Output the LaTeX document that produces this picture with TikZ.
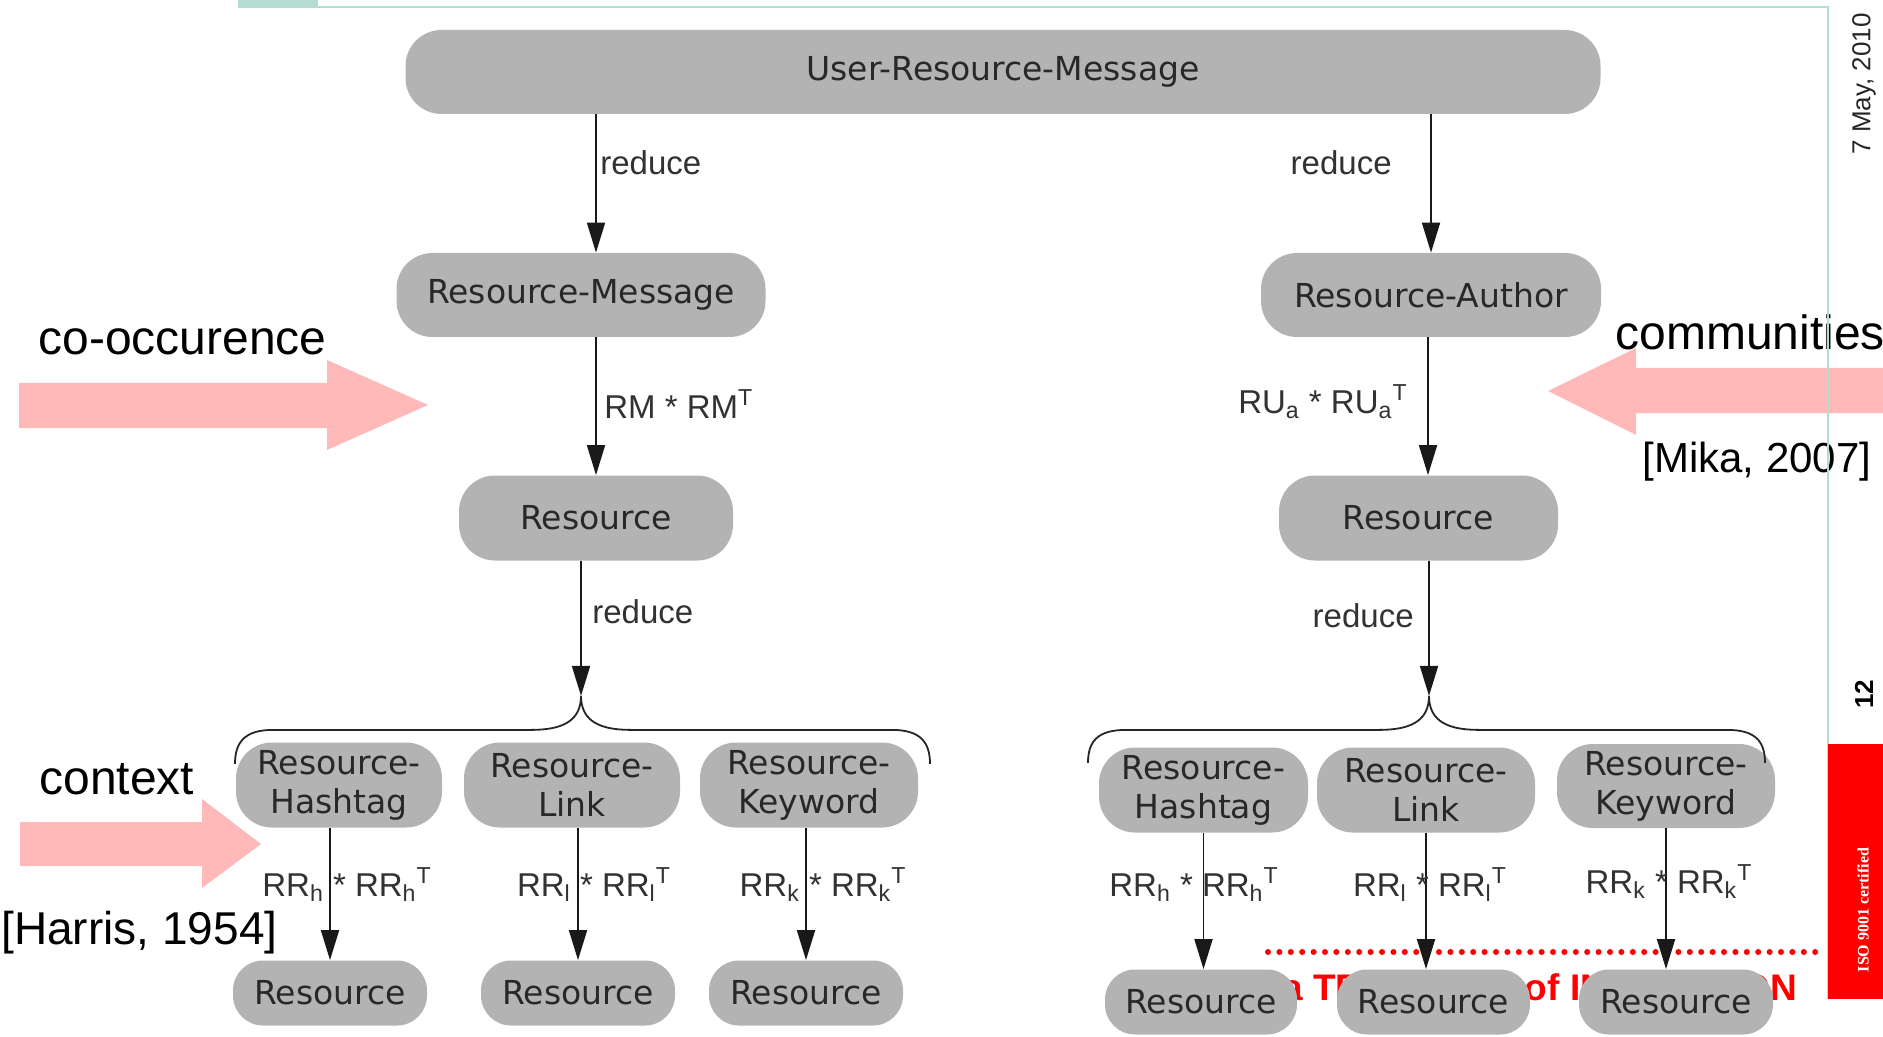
\documentclass[tikz,border=0pt]{standalone}
\usepackage{fontspec}
\setmainfont{Liberation Sans}
\newfontfamily\boxfont{DejaVu Sans}
\newfontfamily\isofont{Liberation Serif}
\usetikzlibrary{arrows.meta,calc}
\definecolor{boxgray}{RGB}{179,179,179}
\definecolor{boxtext}{RGB}{40,40,40}
\definecolor{labeltext}{RGB}{50,50,50}
\definecolor{pinkarrow}{RGB}{255,185,185}
\definecolor{slidegreen}{RGB}{180,220,208}
\tikzset{
  blob/.style={fill=boxgray, text=boxtext, rounded corners=18pt, inner sep=0pt, align=center,
    font=\boxfont\fontsize{16.5}{19.5}\selectfont},
  rblob/.style={blob, rounded corners=15pt, minimum height=32.5pt},
  lbl/.style={text=labeltext, inner sep=0pt, anchor=base, font=\fontsize{16.5}{20}\selectfont},
  arr/.style={draw=black!90, line width=0.9pt, -{Triangle[length=15pt,width=9pt]}},
  brc/.style={draw=black!85, line width=0.9pt},
  remark/.style={inner sep=0pt, anchor=base west, font=\fontsize{24}{29}\selectfont},
  fatarrow/.style={fill=pinkarrow}
}
\begin{document}
\begin{tikzpicture}[x=0.5pt, y=-0.5pt]
	\useasboundingbox[fill=white] (0,0) rectangle (1883,1037);
	
	\fill[fatarrow] (19,383) -- (327,383) -- (327,360) -- (428,405) -- (327,450) -- (327,428) -- (19,428) -- cycle;
	\fill[fatarrow] (20,822) -- (202,822) -- (202,799) -- (261,844) -- (202,888) -- (202,866) -- (20,866) -- cycle;
	\fill[fatarrow] (1883,368) -- (1636,368) -- (1636,348) -- (1548,391) -- (1636,435) -- (1636,413) -- (1883,413) -- cycle;
	\node[remark] (n1) at (38,355) {co-occurence};
	\node[remark] (n2) at (39,794) {context};
	\node[remark, font=\fontsize{23}{28}\selectfont] (n3) at (1,944) {[Harris, 1954]};
	\node[remark] (n4) at (1615,350) {communities};
	\node[remark, font=\fontsize{21}{26}\selectfont] (n5) at (1642,472) {[Mika, 2007]};
	
	\fill[slidegreen] (238,0) rectangle (318,8);
	\draw[slidegreen, line width=1.2pt] (318,7) -- (1828,7) -- (1828,999);
	\fill[red] (1828,744) rectangle (1883,999);
	\node[rotate=90, text=white, font=\isofont\bfseries\fontsize{8}{9}\selectfont] (iso) at (1863,910) {ISO 9001 certified};
	\node[rotate=90, font=\bfseries\fontsize{13}{15}\selectfont] (pg) at (1864,694) {12};
	\node[rotate=90, text=black!85, font=\fontsize{13}{15}\selectfont] (dt) at (1864,84) {7 May, 2010};
	\node[anchor=base west, inner sep=0pt, text=red, font=\bfseries\fontsize{18.5}{22}\selectfont] (tag) at (1282,1000) {a TRADITION of INNOVATION};
	\draw[red, line width=3pt, line cap=round, dash pattern=on 0pt off 5.7pt] (1268,952) -- (1820,952);
	
	\node[blob, minimum width=597.5pt, minimum height=42pt] (u) at (1003,72) {User-Resource-Message};
	\node[blob, minimum width=184.5pt, minimum height=42pt] (m1) at (581,295) {Resource-Message};
	\node[blob, minimum width=170pt, minimum height=42pt] (m2) at (1431,295) {Resource-Author};
	\node[blob, minimum width=137pt, minimum height=42.5pt] (r1) at (596,518) {Resource};
	\node[blob, minimum width=139.5pt, minimum height=42.5pt] (r2) at (1418.5,518) {Resource};
	
	\node[blob, minimum width=103pt, minimum height=42.5pt] (h1) at (339,785) {Resource-\\Hashtag};
	\node[blob, minimum width=108pt, minimum height=42.5pt] (l1) at (572,785) {Resource-\\Link};
	\node[blob, minimum width=109pt, minimum height=42.5pt] (k1) at (809,785) {Resource-\\Keyword};
	\node[blob, minimum width=104.5pt, minimum height=42.5pt] (h2) at (1203.5,790) {Resource-\\Hashtag};
	\node[blob, minimum width=109pt, minimum height=42.5pt] (l2) at (1426,790) {Resource-\\Link};
	\node[blob, minimum width=109pt, minimum height=42pt] (k2) at (1666,786) {Resource-\\Keyword};
	
	\node[rblob, minimum width=97pt] (e1) at (330,993) {Resource};
	\node[rblob, minimum width=97pt] (e2) at (578,993) {Resource};
	\node[rblob, minimum width=97pt] (e3) at (806,993) {Resource};
	\node[rblob, minimum width=96pt] (e4) at (1201,1002) {Resource};
	\node[rblob, minimum width=96.5pt] (e5) at (1433.5,1002) {Resource};
	\node[rblob, minimum width=97pt] (e6) at (1676,1002) {Resource};
	
	\coordinate (a1) at ($(m1.north)+(15,0)$);
	\coordinate (a2) at ($(m2.south)+(-3,0)$);
	\coordinate (b1) at ($(r1.south)+(-15,135)$);
	\coordinate (b2) at ($(r2.south)+(10.5,135)$);
	\draw[arr] (u.south -| a1) -- (a1);
	\draw[arr] (u.south -| m2.north) -- (m2.north);
	\draw[arr] (m1.south -| r1.north) -- (r1.north);
	\draw[arr] (a2) -- (a2 |- r2.north);
	\draw[arr] (r1.south -| b1) -- (b1);
	\draw[arr] (r2.south -| b2) -- (b2);
	
	\draw[brc] (b1) .. controls +(0,26) and +(30,0) .. ++(-50,34) -- ++(-258,0) .. controls +(-28,0) and +(0,-22) .. ++(-38,34);
	\draw[brc] (b1) .. controls +(0,26) and +(-30,0) .. ++(50,34) -- ++(261,0) .. controls +(28,0) and +(0,-22) .. ++(38,34);
	\draw[brc] (b2) .. controls +(0,26) and +(30,0) .. ++(-50,34) -- ++(-253,0) .. controls +(-28,0) and +(0,-22) .. ++(-38,33);
	\draw[brc] (b2) .. controls +(0,26) and +(-30,0) .. ++(50,34) -- ++(248,0) .. controls +(28,0) and +(0,-22) .. ++(38,33);
	
	\draw[arr] (h1.south -| e1.north) -- (e1.north);
	\draw[arr] (l1.south -| e2.north) -- (e2.north);
	\draw[arr] (k1.south -| e3.north) -- (e3.north);
	\draw[arr] (h2.south) -- (h2.south |- e4.north);
	\draw[arr] (l2.south) -- (l2.south |- e5.north);
	\draw[arr] (k2.south) -- (k2.south |- e6.north);
	
	\node[lbl, anchor=base west] (q1) at (600,175) {reduce};
	\node[lbl, anchor=base east] (q2) at (1392,175) {reduce};
	\node[lbl, anchor=base west] (q3) at (604,418) {RM * RM\textsuperscript{T}};
	\node[lbl, anchor=base east] (q4) at (1408,413) {RU\textsubscript{a} * RU\textsubscript{a}\textsuperscript{T}};
	\node[lbl, anchor=base west] (q5) at (592,623) {reduce};
	\node[lbl, anchor=base east] (q6) at (1414,627) {reduce};
	
	\node[lbl] (s1) at (347,896) {RR\textsubscript{h} * RR\textsubscript{h}\textsuperscript{T}};
	\node[lbl] (s2) at (594,896) {RR\textsubscript{l} * RR\textsubscript{l}\textsuperscript{T}};
	\node[lbl] (s3) at (823,896) {RR\textsubscript{k} * RR\textsubscript{k}\textsuperscript{T}};
	\node[lbl] (s4) at (1194,896) {RR\textsubscript{h} * RR\textsubscript{h}\textsuperscript{T}};
	\node[lbl] (s5) at (1430,896) {RR\textsubscript{l} * RR\textsubscript{l}\textsuperscript{T}};
	\node[lbl] (s6) at (1669,893) {RR\textsubscript{k} * RR\textsubscript{k}\textsuperscript{T}};
	
\end{tikzpicture}
\end{document}
